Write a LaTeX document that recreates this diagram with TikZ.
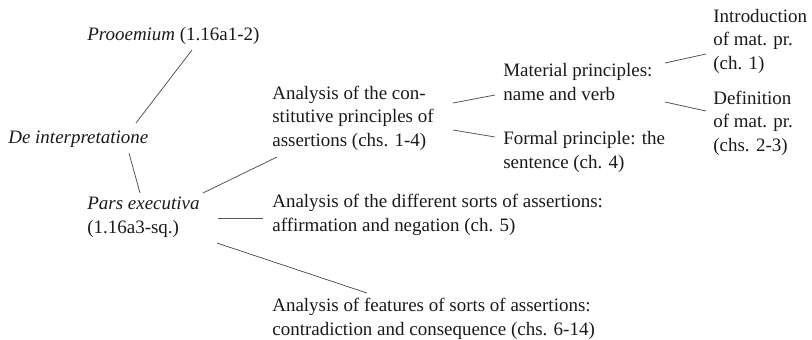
\documentclass[tikz,border=0pt]{standalone}
\usepackage{fontspec}
\setmainfont{Liberation Serif}
\usetikzlibrary{positioning}
\definecolor{ink}{HTML}{1A1A1A}
\definecolor{rule}{HTML}{555555}

\begin{document}
\begin{tikzpicture}[x=.02cm,y=-.02cm,
  txt/.style={anchor=base west,inner sep=0pt,align=left,text=ink,font=\fontsize{10.8}{13.1}\selectfont},
  link/.style={draw=rule,line width=.45pt}]
\useasboundingbox (0,0) rectangle (812,339);
% left column (nodes sit on their last baseline)
\node[txt] (pro) at (87,40) {\textit{Prooemium} (1.16a1-2)};
\node[txt] (dei) at (8,143) {\textit{De interpretatione}};
\node[txt] (pars) at (87,233) {\textit{Pars executiva}\\(1.16a3-sq.)};
% middle column
\node[txt] (acon) at (272,146) {Analysis of the con-\\stitutive principles of\\assertions (chs. 1-4)};
\node[txt] (adiff) at (272,231) {Analysis of the different sorts of assertions:\\affirmation and negation (ch. 5)};
\node[txt] (afeat) at (272,335) {Analysis of features of sorts of assertions:\\contradiction and consequence (chs. 6-14)};
\node[txt] (mat) at (503,100) {Material principles:\\name and verb};
\node[txt] (form) at (503,168) {Formal principle: the\\sentence (ch. 4)};
% right column
\node[txt] (intro) at (713,69) {Introduction\\of mat. pr.\\(ch. 1)};
\node[txt] (defi) at (713,151) {Definition\\of mat. pr.\\(chs. 2-3)};
% connectors
\draw[link] ([shift={(105,10)}]pro.base west) -- ([shift={(128,-20)}]dei.base west);
\draw[link] ([shift={(121,10)}]dei.base west) -- ([shift={(53,-40)}]pars.base west);
\draw[link] ([shift={(116,-40)}]pars.base west) -- ([shift={(5,11)}]acon.base west);
\draw[link] ([shift={(131,-15)}]pars.base west) -- ([shift={(-9,-13)}]adiff.base west);
\draw[link] ([shift={(130,10)}]pars.base west) -- ([shift={(95,-42)}]afeat.base west);
\draw[link] ([shift={(181,-43)}]acon.base west) -- ([shift={(-8,-5)}]mat.base west);
\draw[link] ([shift={(181,-16)}]acon.base west) -- ([shift={(-8,-31)}]form.base west);
\draw[link] ([shift={(162,-37)}]mat.base west) -- ([shift={(-7,-15)}]intro.base west);
\draw[link] ([shift={(162,2)}]mat.base west) -- ([shift={(-7,-40)}]defi.base west);
\end{tikzpicture}
\end{document}
